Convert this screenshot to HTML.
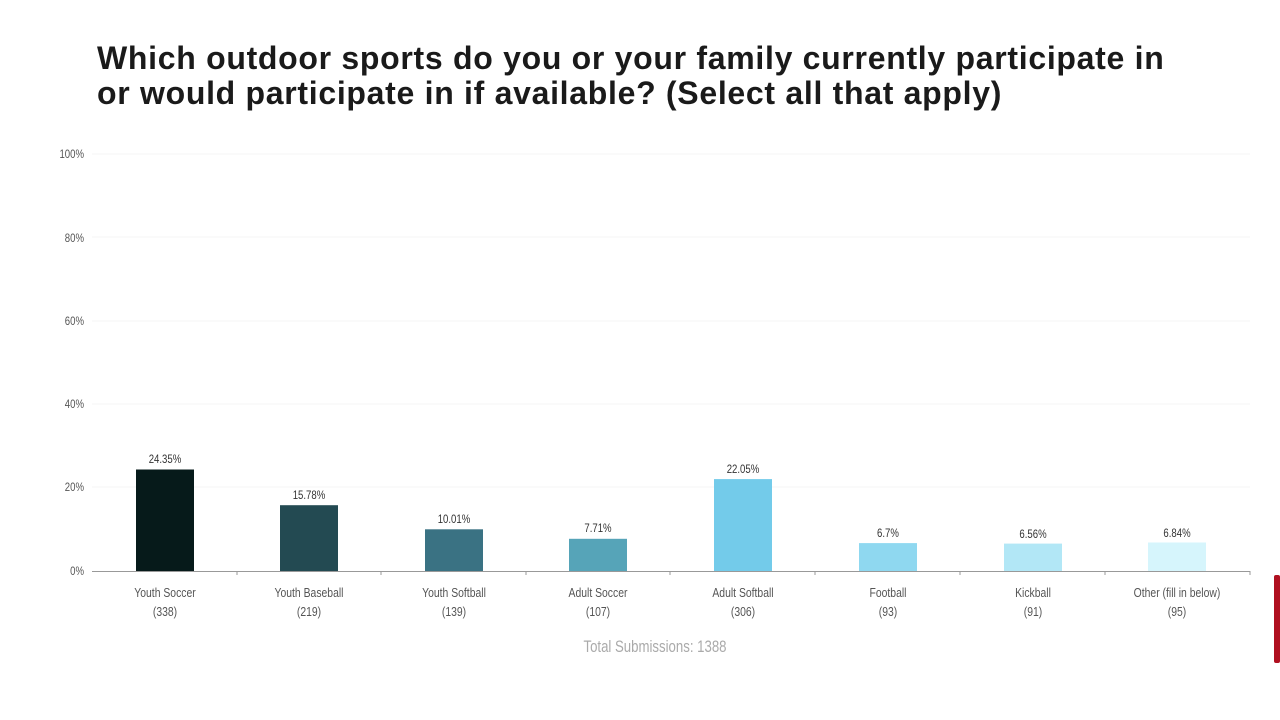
<!DOCTYPE html>
<html><head><meta charset="utf-8"><style>
body{margin:0;width:1280px;height:720px;background:#fff;overflow:hidden;position:relative;font-family:"Liberation Sans",sans-serif}
h1{position:absolute;left:97px;top:41px;margin:0;font-size:32px;line-height:35px;font-weight:bold;color:#1a1a1a;letter-spacing:0.7px;white-space:nowrap}
</style></head><body>
<h1>Which outdoor sports do you or your family currently participate in<br>or would participate in if available? (Select all that apply)</h1>
<svg width="1280" height="720" style="position:absolute;left:0;top:0" font-family="Liberation Sans, sans-serif">
<g stroke="#f4f4f4"><line x1="92" x2="1250" y1="154" y2="154"/><line x1="92" x2="1250" y1="237" y2="237"/><line x1="92" x2="1250" y1="321" y2="321"/><line x1="92" x2="1250" y1="404" y2="404"/><line x1="92" x2="1250" y1="487" y2="487"/></g>
<g stroke="#999" stroke-width="1">
<line x1="92" x2="1250" y1="571.5" y2="571.5"/>
<line x1="237" x2="237" y1="571" y2="575"/><line x1="381" x2="381" y1="571" y2="575"/><line x1="526" x2="526" y1="571" y2="575"/><line x1="670" x2="670" y1="571" y2="575"/><line x1="815" x2="815" y1="571" y2="575"/><line x1="960" x2="960" y1="571" y2="575"/><line x1="1105" x2="1105" y1="571" y2="575"/><line x1="1250" x2="1250" y1="571" y2="575"/>
</g>
<g>
<rect x="136" y="469.5" width="58" height="101.5" fill="#061a1a"/>
<rect x="280" y="505.2" width="58" height="65.8" fill="#234a52"/>
<rect x="425" y="529.3" width="58" height="41.7" fill="#3a7283"/>
<rect x="569" y="538.8" width="58" height="32.2" fill="#56a4b8"/>
<rect x="714" y="479.1" width="58" height="91.9" fill="#73cbea"/>
<rect x="859" y="543.1" width="58" height="27.9" fill="#8fd8f0"/>
<rect x="1004" y="543.6" width="58" height="27.4" fill="#b2e7f6"/>
<rect x="1148" y="542.5" width="58" height="28.5" fill="#d6f5fc"/>
</g>
<g transform="scale(0.8,1)">
<g fill="#555" font-size="12" text-anchor="end">
<text x="105" y="158">100%</text><text x="105" y="242">80%</text><text x="105" y="325">60%</text><text x="105" y="408">40%</text><text x="105" y="491">20%</text><text x="105" y="575">0%</text>
</g>
<g fill="#333" font-size="12" text-anchor="middle">
<text x="206.25" y="463">24.35%</text><text x="386.25" y="499">15.78%</text><text x="567.5" y="523">10.01%</text><text x="747.5" y="532">7.71%</text><text x="928.75" y="473">22.05%</text><text x="1110" y="537">6.7%</text><text x="1291.25" y="538">6.56%</text><text x="1471.25" y="537">6.84%</text>
</g>
<g fill="#555" font-size="13" text-anchor="middle">
<text x="206.25" y="597">Youth Soccer</text><text x="206.25" y="616">(338)</text>
<text x="386.25" y="597">Youth Baseball</text><text x="386.25" y="616">(219)</text>
<text x="567.5" y="597">Youth Softball</text><text x="567.5" y="616">(139)</text>
<text x="747.5" y="597">Adult Soccer</text><text x="747.5" y="616">(107)</text>
<text x="928.75" y="597">Adult Softball</text><text x="928.75" y="616">(306)</text>
<text x="1110" y="597">Football</text><text x="1110" y="616">(93)</text>
<text x="1291.25" y="597">Kickball</text><text x="1291.25" y="616">(91)</text>
<text x="1471.25" y="597">Other (fill in below)</text><text x="1471.25" y="616">(95)</text>
</g>
<text x="818.75" y="652" text-anchor="middle" font-size="16.5" fill="#aaa">Total Submissions: 1388</text>
</g>
<rect x="1274" y="575" width="6" height="88" rx="2" fill="#b01020"/>
</svg>
</body></html>
